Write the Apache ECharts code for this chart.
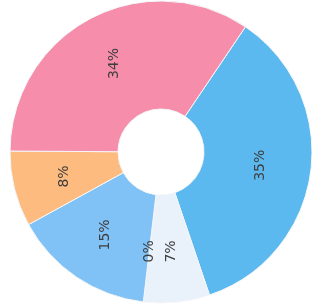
<!DOCTYPE html>
<html>
<head>
<meta charset="utf-8">
<script src="https://cdn.jsdelivr.net/npm/echarts@6/dist/echarts.min.js"></script>
<style>
  html, body { margin: 0; padding: 0; background: #fff; }
  #charts { width: 312px; height: 307px; }
</style>
</head>
<body>
<div id="charts"></div>
<script>
// slices clockwise, starting at the top-right
var categories = ['A', 'B', 'C', 'D', 'E', 'F'];
var values = [35, 7, 0, 15, 8, 34];

var palette = ['#5cb9ef', '#e9f1fb', '#e9f1fb', '#80c2f5', '#fdbb80', '#f68dab'];

var myChart = echarts.init(document.getElementById('charts'));

var option = {
  animation: false,
  color: palette,
  series: [{
    type: 'pie',
    center: [161, 152],
    radius: [43, 151],
    startAngle: 56,
    clockwise: true,
    avoidLabelOverlap: false,
    itemStyle: { borderColor: '#f4f6f8', borderWidth: 1 },
    label: {
      position: 'inside',
      rotate: 90,
      formatter: '{c}%',
      color: '#3e3e3e',
      fontSize: 14,
      fontFamily: 'DejaVu Sans'
    },
    labelLine: { show: false },
    data: categories.map(function (n, i) {
      return { name: n, value: values[i] };
    })
  }]
};
myChart.setOption(option);
window.addEventListener('resize', function () {
  myChart.resize();
});
</script>
</body>
</html>
